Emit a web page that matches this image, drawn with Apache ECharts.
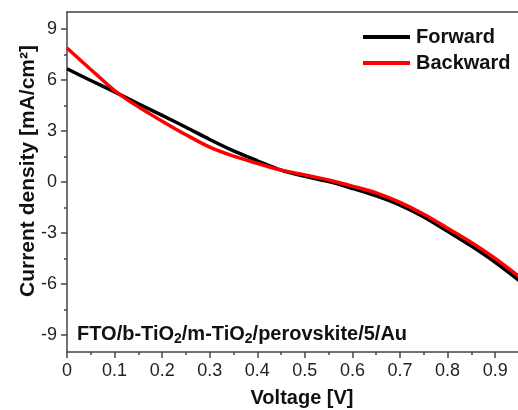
<!DOCTYPE html>
<html>
<head>
<meta charset="utf-8">
<script src="https://cdn.jsdelivr.net/npm/echarts@6/dist/echarts.min.js"></script>
<style>
html,body{margin:0;padding:0;background:#fff;}
#chart{width:518px;height:410px;}
</style>
</head>
<body>
<div id="chart"></div>
<script>
const voltage = [0, 0.05, 0.1, 0.15, 0.2, 0.25, 0.3, 0.35, 0.4, 0.45, 0.5, 0.55, 0.6, 0.65, 0.7, 0.75, 0.8, 0.85, 0.9, 0.95];
const forward = [6.66, 5.97, 5.3, 4.6, 3.92, 3.22, 2.5, 1.83, 1.25, 0.7, 0.33, 0.02, -0.38, -0.82, -1.36, -2.05, -2.9, -3.77, -4.72, -5.78];
const backward = [7.88, 6.62, 5.38, 4.42, 3.58, 2.78, 2.05, 1.52, 1.1, 0.7, 0.42, 0.12, -0.24, -0.64, -1.2, -1.9, -2.72, -3.56, -4.5, -5.56];
const xMajorTicks = [0, 0.1, 0.2, 0.3, 0.4, 0.5, 0.6, 0.7, 0.8, 0.9];
const xMinorTicks = [0.05, 0.15, 0.25, 0.35, 0.45, 0.55, 0.65, 0.75, 0.85];
const yMajorTicks = [-9, -6, -3, 0, 3, 6, 9];
const yMinorTicks = [-7.5, -4.5, -1.5, 1.5, 4.5, 7.5];
const seriesNames = ['Forward', 'Backward'];
const axisTitles = { x: 'Voltage [V]', y: 'Current density [mA/cm\u00B2]' };

const FONT = '"Liberation Sans", Arial, Helvetica, sans-serif';
const AX = '#444';
const xMin = 0, xMax = 0.948, yMin = -10, yMax = 10;

const chart = echarts.init(document.getElementById('chart'), null, { renderer: 'canvas' });
chart.setOption({
  backgroundColor: '#ffffff',
  animation: false,
  grid: { left: 67, right: 0, top: 12, bottom: 58, containLabel: false },
  legend: {
    orient: 'vertical',
    left: 358,
    top: 22,
    itemWidth: 47,
    itemHeight: 4,
    itemGap: 6,
    icon: 'rect',
    textStyle: { fontFamily: FONT, fontSize: 20, fontWeight: 'bold', color: '#111', padding: [0, 0, 0, 1] },
    data: seriesNames
  },
  xAxis: [
    {
      type: 'value', position: 'bottom', min: xMin, max: xMax,
      axisLine: { show: true, onZero: false, lineStyle: { color: AX, width: 1.5 } },
      axisTick: { show: true, customValues: xMajorTicks, length: 6, lineStyle: { color: AX, width: 1.5 } },
      axisLabel: { show: true, customValues: xMajorTicks, margin: 10, fontFamily: FONT, fontSize: 18, color: '#222',
        formatter: v => String(v) },
      splitLine: { show: false }
    },
    {
      type: 'value', position: 'top', min: xMin, max: xMax,
      axisLine: { show: true, onZero: false, lineStyle: { color: AX, width: 1.5 } },
      axisTick: { show: false }, axisLabel: { show: false }, splitLine: { show: false }
    },
    {
      type: 'value', position: 'bottom', min: xMin, max: xMax,
      axisLine: { show: false, onZero: false },
      axisTick: { show: true, customValues: xMinorTicks, length: 3, lineStyle: { color: AX, width: 1.5 } },
      axisLabel: { show: false }, splitLine: { show: false }
    }
  ],
  yAxis: [
    {
      type: 'value', position: 'left', min: yMin, max: yMax,
      axisLine: { show: true, onZero: false, lineStyle: { color: AX, width: 1.5 } },
      axisTick: { show: true, customValues: yMajorTicks, length: 6, lineStyle: { color: AX, width: 1.5 } },
      axisLabel: { show: true, customValues: yMajorTicks, margin: 10, fontFamily: FONT, fontSize: 18, color: '#222' },
      splitLine: { show: false }
    },
    {
      type: 'value', position: 'left', min: yMin, max: yMax,
      axisLine: { show: false, onZero: false },
      axisTick: { show: true, customValues: yMinorTicks, length: 3, lineStyle: { color: AX, width: 1.5 } },
      axisLabel: { show: false }, splitLine: { show: false }
    }
  ],
  series: [
    {
      name: seriesNames[0], type: 'line', smooth: 0.3, showSymbol: false, symbol: 'none',
      xAxisIndex: 0, yAxisIndex: 0,
      lineStyle: { color: '#000000', width: 3.5 }, itemStyle: { color: '#000000' },
      data: voltage.map((v, i) => [v, forward[i]]), z: 2
    },
    {
      name: seriesNames[1], type: 'line', smooth: 0.3, showSymbol: false, symbol: 'none',
      xAxisIndex: 0, yAxisIndex: 0,
      lineStyle: { color: '#ff0000', width: 3.5 }, itemStyle: { color: '#ff0000' },
      data: voltage.map((v, i) => [v, backward[i]]), z: 3
    }
  ],
  graphic: [
    {
      type: 'text', x: 28, y: 171, rotation: Math.PI / 2,
      style: { text: axisTitles.y, fontFamily: FONT, fontSize: 21, fontWeight: 'bold', fill: '#111',
        align: 'center', verticalAlign: 'middle' }
    },
    {
      type: 'text', x: 302, y: 398,
      style: { text: axisTitles.x, fontFamily: FONT, fontSize: 20, fontWeight: 'bold', fill: '#111',
        align: 'center', verticalAlign: 'middle' }
    },
    {
      type: 'text', x: 77, y: 322,
      style: {
        text: '{n|FTO/b-TiO}{s|2}{n|/m-TiO}{s|2}{n|/perovskite/5/Au}',
        fontFamily: FONT, fill: '#111',
        rich: {
          n: { fontFamily: FONT, fontSize: 20, fontWeight: 'bold', fill: '#111', lineHeight: 24, verticalAlign: 'middle' },
          s: { fontFamily: FONT, fontSize: 14, fontWeight: 'bold', fill: '#111', lineHeight: 24, verticalAlign: 'bottom' }
        }
      }
    }
  ]
});
</script>
</body>
</html>
